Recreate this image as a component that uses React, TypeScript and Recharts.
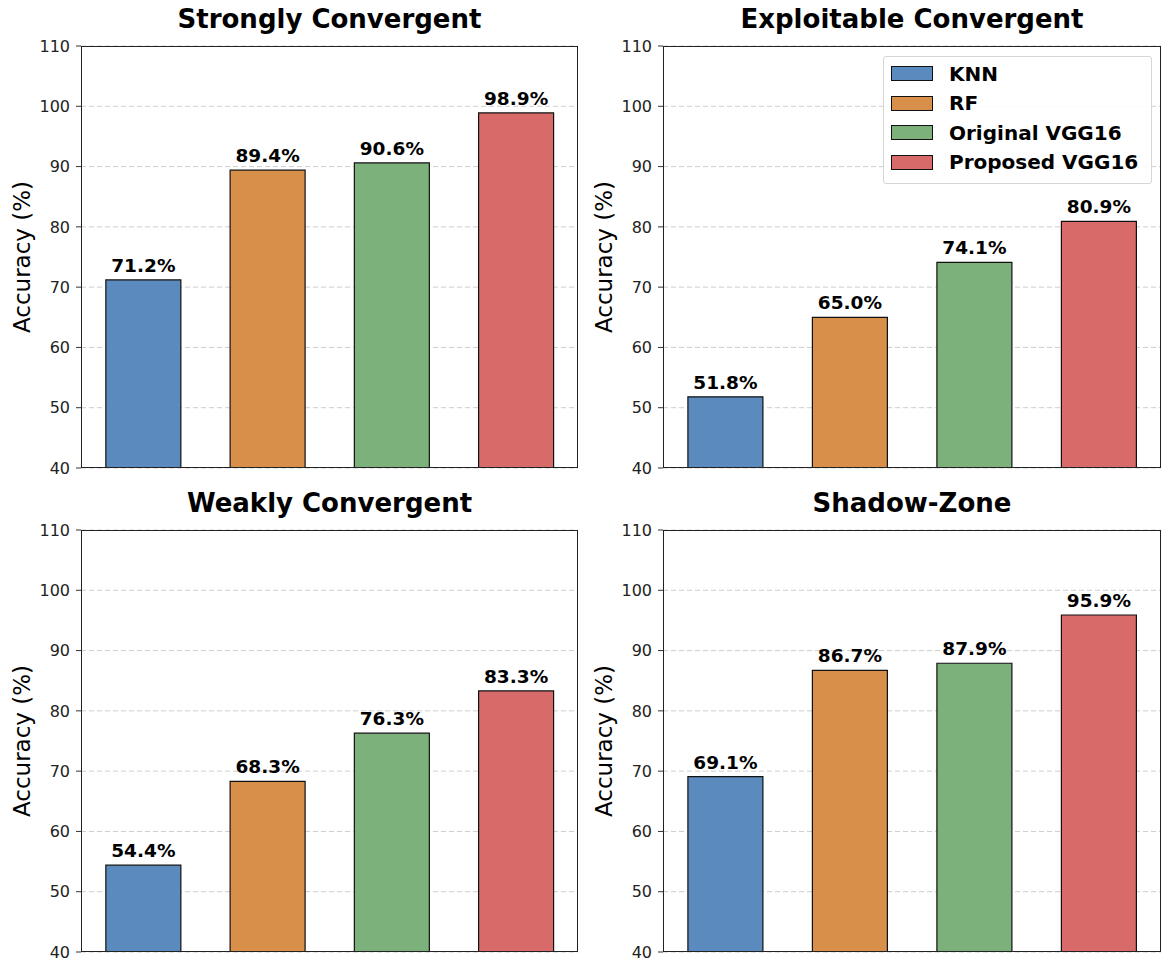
import React from 'react';
import {
  BarChart,
  Bar,
  Cell,
  XAxis,
  YAxis,
  CartesianGrid,
  LabelList,
  Legend,
} from 'recharts';

// Models (categories) and their colors
const models = ['KNN', 'RF', 'Original VGG16', 'Proposed VGG16'];
const modelColors = ['#5B8BBE', '#D88F4A', '#7CB17B', '#D96A6A'];

// Accuracy per zone (%)
const strongly = [71.2, 89.4, 90.6, 98.9];
const exploitable = [51.8, 65.0, 74.1, 80.9];
const weakly = [54.4, 68.3, 76.3, 83.3];
const shadow = [69.1, 86.7, 87.9, 95.9];

const yTicks = [40, 50, 60, 70, 80, 90, 100, 110];

const FONT = '"DejaVu Sans", Verdana, sans-serif';
const PLOT_TOP = 46;
const PLOT_H = 422;

function LegendBox() {
  return (
    <div
      style={{
        background: 'rgba(255,255,255,0.85)',
        border: '1px solid #d6d6d6',
        borderRadius: 3,
        padding: '2px 8px 6px 7px',
        width: 252,
        fontFamily: FONT,
      }}
    >
      {models.map((m, i) => (
        <div key={m} style={{ display: 'flex', alignItems: 'center', height: 29.5 }}>
          <div
            style={{
              width: 40,
              height: 13,
              background: modelColors[i],
              border: '1px solid #111',
              marginRight: 16,
            }}
          />
          <span style={{ fontSize: 20, fontWeight: 'bold', color: '#000', lineHeight: '22px' }}>
            {m}
          </span>
        </div>
      ))}
    </div>
  );
}

interface PanelProps {
  title: string;
  values: number[];
  left: number;
  top: number;
  width: number;
  yAxisWidth: number;
  marginRight: number;
  showLegend?: boolean;
}

function Panel({ title, values, left, top, width, yAxisWidth, marginRight, showLegend }: PanelProps) {
  const data = models.map((m, i) => ({ model: m, value: values[i] }));
  const plotLeft = yAxisWidth;
  const plotWidth = width - yAxisWidth - marginRight;

  return (
    <div style={{ position: 'absolute', left, top, width, height: 484 }}>
      {/* Title */}
      <div
        style={{
          position: 'absolute',
          left: plotLeft,
          width: plotWidth,
          top: 3,
          textAlign: 'center',
          fontFamily: FONT,
          fontSize: 26,
          fontWeight: 'bold',
          color: '#000',
          lineHeight: '32px',
        }}
      >
        {title}
      </div>
      <BarChart
        width={width}
        height={484}
        data={data}
        margin={{ top: PLOT_TOP, right: marginRight, bottom: 16, left: 0 }}
        barCategoryGap="20%"
      >
        <CartesianGrid
          vertical={false}
          stroke="#c8c8c8"
          strokeDasharray="5 3"
          strokeWidth={0.9}
        />
        <XAxis dataKey="model" tick={false} tickLine={false} axisLine={false} height={0} />
        <YAxis
          domain={[40, 110]}
          ticks={yTicks}
          width={yAxisWidth}
          tickSize={5}
          tickMargin={6}
          allowDataOverflow
          axisLine={false}
          tickLine={{ stroke: '#333' }}
          tick={{ fill: '#222', fontSize: 16, fontFamily: FONT }}
          label={{
            content: () => (
              <text
                x={plotLeft - 59.5}
                y={PLOT_TOP + PLOT_H / 2}
                transform={`rotate(-90, ${plotLeft - 59.5}, ${PLOT_TOP + PLOT_H / 2})`}
                textAnchor="middle"
                dominantBaseline="central"
                fontFamily={FONT}
                fontSize={23}
                fill="#000"
              >
                Accuracy (%)
              </text>
            ),
          }}
        />
        {showLegend && (
          <Legend
            layout="vertical"
            align="center"
            verticalAlign="middle"
            content={() => <LegendBox />}
            wrapperStyle={{ left: 298, top: 56, width: 270, height: 128 }}
          />
        )}
        <Bar
          dataKey="value"
          stroke="#111"
          strokeWidth={1.2}
          isAnimationActive={false}
        >
          {data.map((d, i) => (
            <Cell key={d.model} fill={modelColors[i]} />
          ))}
          <LabelList
            dataKey="value"
            position="top"
            offset={8}
            formatter={(v: any) => `${Number(v).toFixed(1)}%`}
            style={{ fontFamily: FONT, fontSize: 18.5, fontWeight: 'bold', fill: '#000' }}
          />
        </Bar>
      </BarChart>
      {/* Axes frame */}
      <div
        style={{
          position: 'absolute',
          left: plotLeft,
          top: PLOT_TOP,
          width: plotWidth,
          height: PLOT_H,
          border: '1px solid #222',
          boxSizing: 'border-box',
          pointerEvents: 'none',
        }}
      />
    </div>
  );
}

export default function App() {
  return (
    <div
      style={{
        position: 'absolute',
        left: 0,
        top: 0,
        width: 1171,
        height: 968,
        background: '#fff',
        overflow: 'hidden',
      }}
    >
      <Panel title="Strongly Convergent" values={strongly} left={0} top={0} width={585} yAxisWidth={81} marginRight={7} />
      <Panel title="Exploitable Convergent" values={exploitable} left={585} top={0} width={586} yAxisWidth={78} marginRight={10} showLegend />
      <Panel title="Weakly Convergent" values={weakly} left={0} top={484} width={585} yAxisWidth={81} marginRight={7} />
      <Panel title="Shadow-Zone" values={shadow} left={585} top={484} width={586} yAxisWidth={78} marginRight={10} />
    </div>
  );
}
